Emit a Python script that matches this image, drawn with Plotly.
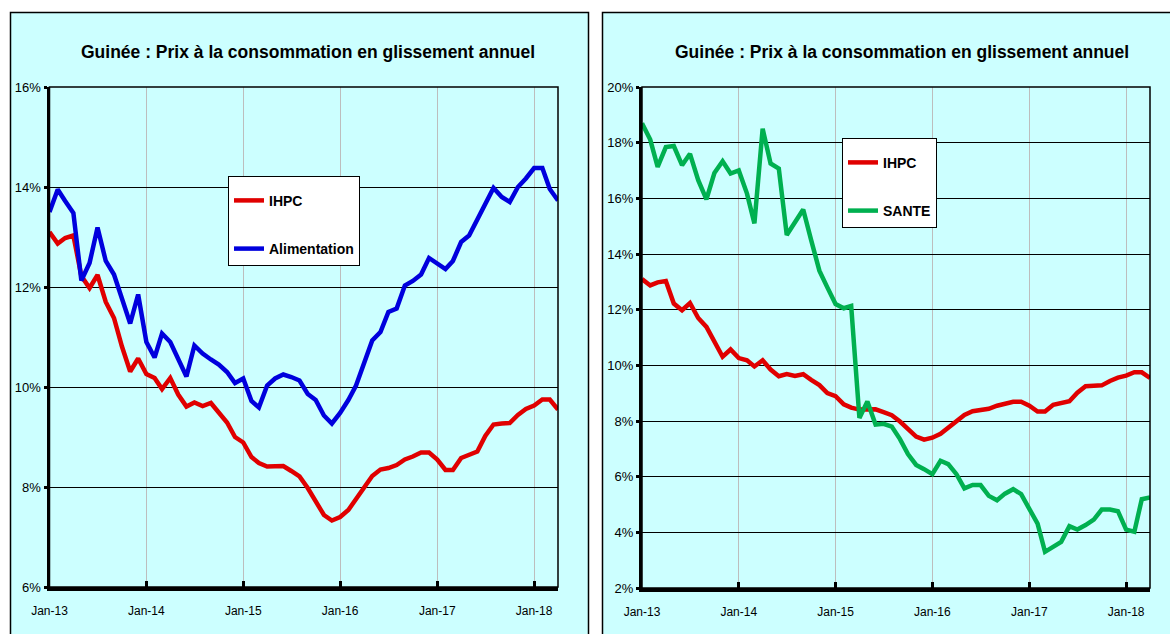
import pandas as pd
import plotly.graph_objects as go

# ---------------- data ----------------
months = pd.date_range("2013-01-01", periods=64, freq="MS")

ihpc = [13.10, 12.87, 12.98, 13.03, 12.22, 11.98, 12.24, 11.70, 11.38, 10.81,
        10.31, 10.57, 10.26, 10.18, 9.96, 10.18, 9.85, 9.61, 9.69, 9.62,
        9.68, 9.48, 9.29, 9.00, 8.89, 8.60, 8.48, 8.41, 8.42, 8.42,
        8.32, 8.21, 7.98, 7.72, 7.44, 7.33, 7.40, 7.54, 7.75, 8.00,
        8.22, 8.35, 8.38, 8.44, 8.55, 8.61, 8.69, 8.69, 8.55, 8.34,
        8.34, 8.58, 8.64, 8.71, 9.02, 9.25, 9.27, 9.28, 9.44, 9.56,
        9.63, 9.75, 9.75, 9.55]

alimentation = [13.50, 13.95, 13.72, 13.48, 12.13, 12.48, 13.19, 12.52, 12.25, 11.77,
                11.27, 11.85, 10.90, 10.59, 11.07, 10.90, 10.57, 10.21, 10.83, 10.67,
                10.55, 10.45, 10.30, 10.08, 10.17, 9.72, 9.59, 10.03, 10.17, 10.25,
                10.20, 10.13, 9.86, 9.74, 9.43, 9.27, 9.48, 9.74, 10.03, 10.48,
                10.93, 11.10, 11.50, 11.57, 12.03, 12.12, 12.25, 12.58, 12.46, 12.36,
                12.52, 12.90, 13.03, 13.36, 13.65, 13.98, 13.80, 13.70, 14.00, 14.17,
                14.38, 14.38, 13.96, 13.73]

sante = [18.70, 18.11, 17.13, 17.84, 17.88, 17.19, 17.60, 16.65, 15.96, 16.91,
         17.33, 16.89, 17.00, 16.17, 15.10, 18.50, 17.25, 17.07, 14.68, 15.16,
         15.60, 14.50, 13.40, 12.80, 12.20, 12.05, 12.13, 8.11, 8.70, 7.87,
         7.90, 7.80, 7.35, 6.81, 6.42, 6.27, 6.09, 6.57, 6.45, 6.09,
         5.58, 5.70, 5.70, 5.31, 5.15, 5.39, 5.55, 5.37, 4.86, 4.31,
         3.30, 3.47, 3.66, 4.22, 4.10, 4.26, 4.46, 4.82, 4.82, 4.76,
         4.10, 4.02, 5.19, 5.25]

title_text = "Guinée : Prix à la consommation en glissement annuel"

# ---------------- styles ----------------
W, H = 1170, 634
FONT = "Liberation Sans, Arial, sans-serif"
RED = "#E00000"
BLUE = "#0000DD"
GREEN = "#00B050"
CYAN = "#CCFFFF"

def px(x):
    return x / W

def py(y):
    return 1 - y / H

fig = go.Figure()

fig.add_trace(go.Scatter(x=months, y=ihpc, name="IHPC", mode="lines",
                         line=dict(color=RED, width=4.5), xaxis="x", yaxis="y",
                         legend="legend", legendgroup="a"))
fig.add_trace(go.Scatter(x=months, y=alimentation, name="Alimentation", mode="lines",
                         line=dict(color=BLUE, width=4.5), xaxis="x", yaxis="y",
                         legend="legend", legendgroup="b"))
fig.add_trace(go.Scatter(x=months, y=ihpc, name="IHPC", mode="lines",
                         line=dict(color=RED, width=4.5), xaxis="x2", yaxis="y2",
                         legend="legend2", legendgroup="c"))
fig.add_trace(go.Scatter(x=months, y=sante, name="SANTE", mode="lines",
                         line=dict(color=GREEN, width=4.5), xaxis="x2", yaxis="y2",
                         legend="legend2", legendgroup="d"))

xcommon = dict(
    type="date", range=["2013-01-01", "2018-04-01"],
    tick0="2013-01-01", dtick="M12", tickformat="%b-%y",
    showgrid=True, gridcolor="#BDBDBD", gridwidth=1,
    showline=True, linecolor="black", linewidth=4,
    ticks="inside", ticklen=6, tickwidth=3, tickcolor="black",
    tickfont=dict(family=FONT, size=12, color="black"),
    ticklabelstandoff=10, zeroline=False, fixedrange=True, automargin=False,
)
ycommon = dict(
    ticksuffix="%", showgrid=True, gridcolor="black", gridwidth=1.3,
    showline=True, linecolor="black", linewidth=3,
    ticks="outside", ticklen=3, tickwidth=3, tickcolor="black",
    tickfont=dict(family=FONT, size=13, color="black"),
    zeroline=False, fixedrange=True, automargin=False,
)

legend_common = dict(
    xanchor="left", yanchor="top",
    bgcolor="white", bordercolor="black", borderwidth=1,
    font=dict(family=FONT, size=14, color="black", weight="bold"),
    tracegroupgap=27, traceorder="grouped",
    title=dict(text=" ", font=dict(size=6)),
)

fig.update_layout(
    width=W, height=H,
    margin=dict(l=0, r=0, t=0, b=0, autoexpand=False),
    paper_bgcolor="white", plot_bgcolor="white",
    showlegend=True,
    xaxis=dict(domain=[px(49.5), px(558)], anchor="y", **xcommon),
    yaxis=dict(domain=[py(587), py(87)], anchor="x", range=[6, 16], dtick=2, **ycommon),
    xaxis2=dict(domain=[px(642), px(1150)], anchor="y2", **xcommon),
    yaxis2=dict(domain=[py(588), py(87)], anchor="x2", range=[2, 20], dtick=2, **ycommon),
    legend=dict(x=px(228), y=py(176), **legend_common),
    legend2=dict(x=px(842), y=py(138), **legend_common),
)

shapes = [
    dict(type="rect", xref="paper", yref="paper", x0=px(10.5), x1=px(588.5),
         y0=py(660), y1=py(12.5), fillcolor=CYAN, line=dict(color="black", width=1.5),
         layer="below"),
    dict(type="rect", xref="paper", yref="paper", x0=px(602.5), x1=px(1190),
         y0=py(660), y1=py(12.5), fillcolor=CYAN, line=dict(color="black", width=1.5),
         layer="below"),
    dict(type="rect", xref="x domain", yref="y domain", x0=0, x1=1, y0=0, y1=1,
         line=dict(color="black", width=1.5), layer="above"),
    dict(type="rect", xref="x2 domain", yref="y2 domain", x0=0, x1=1, y0=0, y1=1,
         line=dict(color="black", width=1.5), layer="above"),
]
fig.update_layout(shapes=shapes)

for cx in (px(308), px(902)):
    fig.add_annotation(text=title_text, x=cx, y=py(52), xref="paper", yref="paper",
                       showarrow=False, xanchor="center", yanchor="middle",
                       font=dict(family=FONT, size=17.5, color="black", weight="bold"))

fig.write_html("out.html",
               config={"displayModeBar": False},
               post_script="document.body.style.margin='0';document.body.style.overflow='hidden';")
